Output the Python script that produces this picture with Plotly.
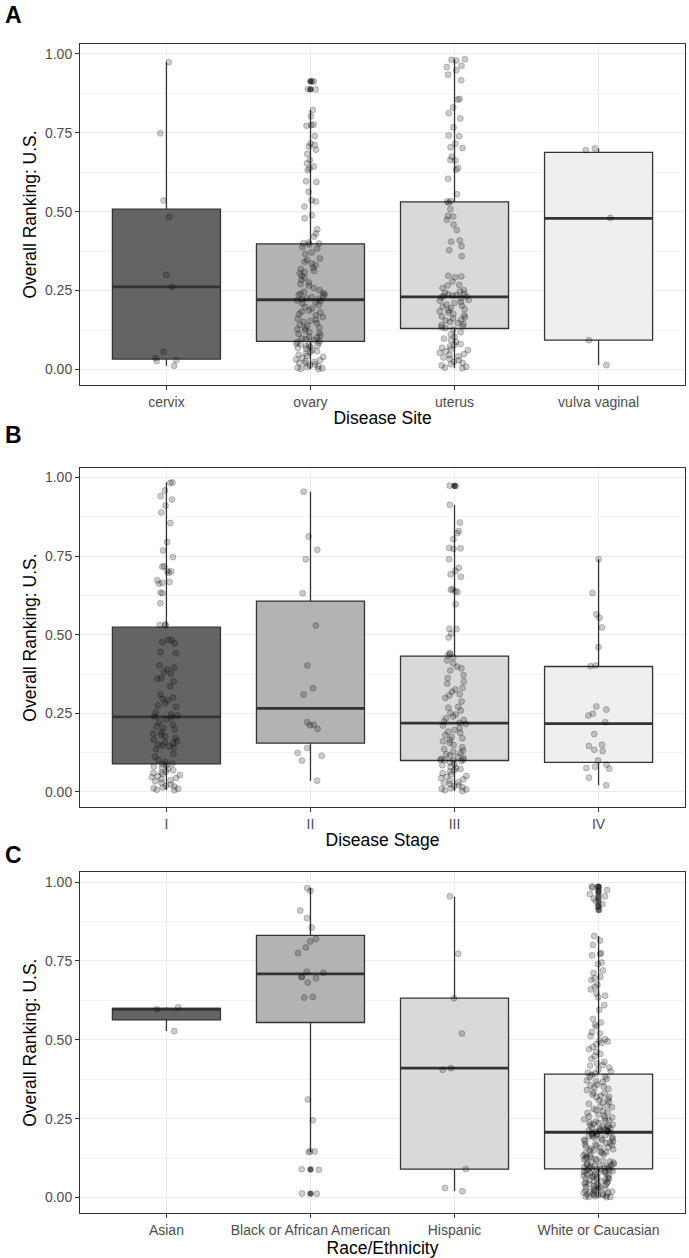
import plotly.graph_objects as go

# ---------------- data ----------------
site_cats = ["cervix", "ovary", "uterus", "vulva vaginal"]
stage_cats = ["I", "II", "III", "IV"]
race_cats = ["Asian", "Black or African American", "Hispanic", "White or Caucasian"]

# panel A points
site_cervix = [0.973, 0.748, 0.535, 0.483, 0.300, 0.262, 0.056, 0.036, 0.030, 0.027, 0.012]
site_ovary = [0.913, 0.912, 0.888, 0.887, 0.822, 0.802, 0.776, 0.774, 0.772, 0.740, 0.716, 0.711,
              0.706, 0.696, 0.683, 0.664, 0.653, 0.643, 0.637, 0.632, 0.596, 0.594, 0.563, 0.536,
              0.532, 0.516, 0.489, 0.479, 0.444, 0.431, 0.421, 0.402, 0.400, 0.399,
              0.396, 0.388, 0.383, 0.371, 0.366, 0.352, 0.347, 0.341, 0.336, 0.331, 0.322, 0.318,
              0.312, 0.309, 0.305, 0.297, 0.291, 0.284, 0.276, 0.271, 0.266, 0.258, 0.252, 0.246,
              0.242, 0.240, 0.238, 0.236, 0.233, 0.229, 0.226, 0.224, 0.222,
              0.219, 0.217, 0.212, 0.209, 0.204, 0.198, 0.193, 0.187, 0.183, 0.181, 0.176, 0.172,
              0.166, 0.161, 0.158, 0.154, 0.151, 0.147, 0.142, 0.138, 0.133, 0.131, 0.127, 0.124,
              0.119, 0.116, 0.113, 0.108, 0.104, 0.101, 0.098, 0.096, 0.093, 0.091,
              0.087, 0.084, 0.082, 0.080, 0.077, 0.076, 0.074, 0.071, 0.068, 0.066, 0.062, 0.058,
              0.055, 0.051, 0.047, 0.043, 0.040, 0.036, 0.032, 0.029, 0.027, 0.024, 0.021, 0.019,
              0.016, 0.013, 0.010, 0.008, 0.006, 0.004, 0.002, 0.001]
site_uterus = [0.983, 0.981, 0.979, 0.962, 0.958, 0.948, 0.934, 0.916, 0.857, 0.855, 0.830, 0.812,
               0.795, 0.767, 0.741, 0.739, 0.715, 0.704, 0.702, 0.674, 0.664, 0.662, 0.638, 0.633,
               0.604, 0.555, 0.534, 0.532,
               0.528, 0.508, 0.487, 0.485, 0.474, 0.459, 0.442, 0.409, 0.405, 0.391, 0.378, 0.359,
               0.297, 0.295, 0.292, 0.279, 0.268, 0.266, 0.258, 0.251, 0.247, 0.243, 0.240, 0.238,
               0.236, 0.234, 0.232, 0.231,
               0.228, 0.225, 0.221, 0.218, 0.214, 0.211, 0.206, 0.202, 0.199, 0.195, 0.191, 0.188,
               0.184, 0.181, 0.176, 0.172, 0.168, 0.165, 0.162, 0.158, 0.155, 0.151, 0.147, 0.144,
               0.141, 0.137, 0.134, 0.131,
               0.127, 0.118, 0.111, 0.104, 0.098, 0.093, 0.087, 0.081, 0.078, 0.073, 0.069, 0.064,
               0.061, 0.057, 0.053, 0.049, 0.046, 0.042, 0.038, 0.034, 0.029, 0.025, 0.021, 0.017,
               0.013, 0.009, 0.006, 0.004]
site_vulva = [0.700, 0.695, 0.480, 0.093, 0.014]

site_q1 = [0.033, 0.089, 0.130, 0.093]
site_median = [0.262, 0.221, 0.230, 0.479]
site_q3 = [0.508, 0.398, 0.531, 0.688]
site_lower = [0.012, 0.001, 0.004, 0.014]
site_upper = [0.973, 0.822, 0.981, 0.700]
site_outliers = [[], [0.913, 0.912, 0.888, 0.887], [], []]

# panel B points
stage_I = [0.984, 0.983, 0.959, 0.941, 0.930, 0.911, 0.889, 0.855, 0.795, 0.768, 0.747, 0.718,
           0.716, 0.703, 0.701, 0.697, 0.673, 0.668, 0.665, 0.662, 0.634, 0.632, 0.600, 0.533,
           0.531, 0.529,
           0.484, 0.483, 0.476, 0.473, 0.445, 0.441, 0.402, 0.396, 0.390, 0.381, 0.377, 0.362,
           0.360, 0.351, 0.336, 0.310, 0.300, 0.296, 0.292, 0.282, 0.275, 0.271, 0.252, 0.246,
           0.243, 0.240,
           0.237, 0.231, 0.222, 0.214, 0.209, 0.203, 0.198, 0.191, 0.185, 0.181, 0.176, 0.171,
           0.166, 0.161, 0.158, 0.155, 0.151, 0.148, 0.145, 0.141, 0.136, 0.121, 0.112, 0.101,
           0.095, 0.090,
           0.088, 0.085, 0.081, 0.078, 0.074, 0.069, 0.065, 0.062, 0.060, 0.057, 0.054, 0.050,
           0.047, 0.044, 0.040, 0.037, 0.034, 0.029, 0.024, 0.020, 0.017, 0.014, 0.012, 0.010,
           0.007, 0.005]
stage_II = [0.955, 0.812, 0.770, 0.740, 0.632, 0.529, 0.402, 0.330, 0.310, 0.222, 0.214, 0.212,
            0.200, 0.140, 0.124, 0.115, 0.100, 0.036]
stage_III = [0.974, 0.973, 0.913, 0.857, 0.830, 0.823, 0.804, 0.776, 0.775, 0.773, 0.740, 0.713,
             0.703, 0.692, 0.684, 0.645, 0.643, 0.638, 0.636, 0.597, 0.519, 0.518, 0.504, 0.491,
             0.441, 0.439, 0.434,
             0.428, 0.418, 0.409, 0.398, 0.393, 0.386, 0.372, 0.362, 0.351, 0.344, 0.331, 0.326,
             0.319, 0.311, 0.307, 0.299, 0.288, 0.271, 0.268, 0.259, 0.251, 0.246, 0.240, 0.234,
             0.229, 0.224, 0.220,
             0.216, 0.211, 0.203, 0.197, 0.192, 0.188, 0.181, 0.175, 0.171, 0.166, 0.161, 0.156,
             0.149, 0.142, 0.136, 0.131, 0.128, 0.124, 0.120, 0.116, 0.112, 0.108, 0.105, 0.103,
             0.102, 0.101, 0.100,
             0.098, 0.094, 0.089, 0.085, 0.080, 0.076, 0.073, 0.069, 0.065, 0.060, 0.056, 0.051,
             0.048, 0.044, 0.040, 0.036, 0.031, 0.028, 0.025, 0.021, 0.018, 0.015, 0.012, 0.010,
             0.008, 0.005, 0.003]
stage_IV = [0.740, 0.633, 0.565, 0.554, 0.523, 0.461, 0.402, 0.400, 0.272, 0.262, 0.249, 0.243,
            0.222, 0.184, 0.150, 0.146, 0.134, 0.130, 0.100, 0.087, 0.080, 0.076, 0.074, 0.045,
            0.021]

stage_q1 = [0.089, 0.155, 0.100, 0.094]
stage_median = [0.239, 0.266, 0.219, 0.217]
stage_q3 = [0.524, 0.607, 0.432, 0.399]
stage_lower = [0.005, 0.036, 0.003, 0.021]
stage_upper = [0.984, 0.955, 0.913, 0.740]
stage_outliers = [[], [], [0.974, 0.973], []]

# panel C points
race_asian = [0.603, 0.597, 0.528]
race_black = [0.981, 0.973, 0.910, 0.886, 0.856, 0.820, 0.812, 0.793, 0.775, 0.716, 0.713, 0.700,
              0.699, 0.695, 0.682, 0.636, 0.634, 0.311, 0.245, 0.147, 0.146, 0.144, 0.090, 0.088,
              0.013, 0.012]
race_hispanic = [0.955, 0.773, 0.632, 0.520, 0.410, 0.405, 0.090, 0.030, 0.020]
race_white = [0.986, 0.985, 0.983, 0.975, 0.970, 0.962, 0.955, 0.948, 0.940, 0.930, 0.922, 0.912,
              0.829, 0.815, 0.801, 0.775, 0.772, 0.768, 0.745, 0.740, 0.720, 0.712, 0.700, 0.695,
              0.690, 0.675, 0.668, 0.660, 0.648, 0.640, 0.635, 0.610, 0.595, 0.566, 0.555, 0.548,
              0.542, 0.525, 0.520, 0.512, 0.502, 0.498, 0.495, 0.490, 0.486, 0.478, 0.470, 0.462,
              0.455, 0.448, 0.440, 0.430, 0.425, 0.420, 0.418, 0.412, 0.405, 0.400, 0.396, 0.393,
              0.389, 0.384, 0.382, 0.377, 0.371, 0.369, 0.366, 0.358, 0.355, 0.352, 0.349, 0.344,
              0.341, 0.333, 0.331, 0.327, 0.322, 0.319, 0.318, 0.312, 0.308, 0.303, 0.301, 0.297,
              0.292, 0.288, 0.286, 0.281, 0.277, 0.274, 0.270, 0.268, 0.263, 0.259, 0.257, 0.254,
              0.251, 0.248, 0.246, 0.243, 0.241, 0.238, 0.236, 0.233, 0.231, 0.229, 0.227, 0.225,
              0.223, 0.222, 0.220, 0.218, 0.217, 0.215, 0.213, 0.212, 0.211, 0.210, 0.209, 0.208,
              0.206, 0.205, 0.202, 0.201, 0.198, 0.197, 0.195, 0.194, 0.191, 0.190, 0.187, 0.186,
              0.183, 0.182, 0.179, 0.178, 0.174, 0.173, 0.170, 0.169, 0.166, 0.164, 0.161, 0.159,
              0.158, 0.155, 0.153, 0.150, 0.149, 0.146, 0.144, 0.141, 0.140, 0.137, 0.134, 0.133,
              0.129, 0.128, 0.125, 0.122, 0.121, 0.118, 0.117, 0.114, 0.112, 0.111, 0.108, 0.106,
              0.104, 0.103, 0.101, 0.100, 0.099, 0.097, 0.096, 0.095, 0.094, 0.093, 0.092, 0.091,
              0.090, 0.089, 0.088, 0.087, 0.085, 0.084, 0.083, 0.081, 0.080, 0.079, 0.077, 0.075,
              0.074, 0.072, 0.071, 0.070, 0.068, 0.066, 0.064, 0.063, 0.061, 0.059, 0.058, 0.056,
              0.055, 0.052, 0.051, 0.050, 0.047, 0.046, 0.044, 0.042, 0.041, 0.039, 0.037, 0.035,
              0.034, 0.031, 0.030, 0.028, 0.026, 0.025, 0.023, 0.021, 0.019, 0.018, 0.016, 0.015,
              0.013, 0.011, 0.010, 0.009, 0.008, 0.007, 0.006, 0.004, 0.003, 0.002, 0.002, 0.001]

race_q1 = [0.563, 0.555, 0.090, 0.091]
race_median = [0.597, 0.709, 0.410, 0.207]
race_q3 = [0.600, 0.831, 0.632, 0.391]
race_lower = [0.528, 0.144, 0.020, 0.001]
race_upper = [0.603, 0.981, 0.954, 0.829]
race_outliers = [[], [0.090, 0.088, 0.013, 0.012], [],
                 [0.986, 0.985, 0.983, 0.975, 0.970, 0.962, 0.955, 0.948, 0.940, 0.930, 0.922, 0.912]]

box_fills = ["#646464", "#b3b3b3", "#d9d9d9", "#efefef"]

panels = [
    dict(cats=site_cats, pts=[site_cervix, site_ovary, site_uterus, site_vulva],
         q1=site_q1, med=site_median, q3=site_q3, lo=site_lower, hi=site_upper,
         outs=site_outliers, xtitle="Disease Site", domain=[0.7083, 1.0], letter="A", ly=1.0248),
    dict(cats=stage_cats, pts=[stage_I, stage_II, stage_III, stage_IV],
         q1=stage_q1, med=stage_median, q3=stage_q3, lo=stage_lower, hi=stage_upper,
         outs=stage_outliers, xtitle="Disease Stage", domain=[0.347, 0.6375], letter="B", ly=0.6655),
    dict(cats=race_cats, pts=[race_asian, race_black, race_hispanic, race_white],
         q1=race_q1, med=race_median, q3=race_q3, lo=race_lower, hi=race_upper,
         outs=race_outliers, xtitle="Race/Ethnicity", domain=[0.0, 0.2914], letter="C", ly=0.3062),
]

FONT = "Liberation Sans, Arial, sans-serif"
TICK_SIZE = 14
TITLE_SIZE = 17.5
BOXW = 0.75
fig = go.Figure()
layout_axes = {}
annotations = []

for p_i, p in enumerate(panels):
    sfx = "" if p_i == 0 else str(p_i + 1)
    xa, ya = "x" + sfx, "y" + sfx
    common = dict(xaxis=xa, yaxis=ya, showlegend=False, hoverinfo="skip", width=BOXW)
    # boxes
    for c_i, cat in enumerate(p["cats"]):
        fig.add_trace(go.Box(x=[cat], q1=[p["q1"][c_i]], median=[p["med"][c_i]], q3=[p["q3"][c_i]],
                             lowerfence=[p["lo"][c_i]], upperfence=[p["hi"][c_i]],
                             fillcolor=box_fills[c_i], line=dict(color="#333333", width=1.3),
                             whiskerwidth=0, boxpoints=False, **common))
    # thick median lines
    for c_i, cat in enumerate(p["cats"]):
        m = p["med"][c_i]
        fig.add_trace(go.Box(x=[cat], q1=[m], median=[m], q3=[m], lowerfence=[m], upperfence=[m],
                             fillcolor="rgba(0,0,0,0)", line=dict(color="#333333", width=2.8),
                             whiskerwidth=0, boxpoints=False, **common))
    # outliers (at category centre)
    for c_i, cat in enumerate(p["cats"]):
        o = p["outs"][c_i]
        if o:
            fig.add_trace(go.Box(x=[cat] * len(o), y=o, boxpoints="all", jitter=0, pointpos=0,
                                 fillcolor="rgba(0,0,0,0)", line=dict(width=0, color="rgba(0,0,0,0)"),
                                 marker=dict(color="rgba(60,60,60,0.6)", size=6), **common))
    # jittered points
    for c_i, cat in enumerate(p["cats"]):
        v = p["pts"][c_i]
        fig.add_trace(go.Box(x=[cat] * len(v), y=v, boxpoints="all", jitter=0.28, pointpos=0,
                             fillcolor="rgba(0,0,0,0)", line=dict(width=0, color="rgba(0,0,0,0)"),
                             marker=dict(color="rgba(0,0,0,0.2)", size=6,
                                         line=dict(color="rgba(0,0,0,0.3)", width=0.7)),
                             **common))

    layout_axes["xaxis" + sfx] = dict(
        domain=[0, 1], anchor=ya, type="category", categoryorder="array", categoryarray=p["cats"],
        range=[-0.6, 3.6], showgrid=True, gridcolor="#ebebeb", gridwidth=1, zeroline=False,
        showline=True, mirror=True, linecolor="#333333", linewidth=1,
        ticks="outside", ticklen=4, tickcolor="#333333", tickwidth=1,
        tickfont=dict(size=TICK_SIZE, color="#4d4d4d", family=FONT),
        title=dict(text=p["xtitle"], font=dict(size=TITLE_SIZE, color="black", family=FONT),
                   standoff=2),
        automargin=False)
    layout_axes["yaxis" + sfx] = dict(
        domain=p["domain"], anchor=xa, range=[-0.049, 1.031],
        tickvals=[0, 0.25, 0.5, 0.75, 1.0], tickformat=".2f",
        showgrid=True, gridcolor="#ebebeb", gridwidth=1, zeroline=False,
        minor=dict(tick0=0, dtick=0.125, showgrid=True, gridcolor="#f3f3f3", gridwidth=0.6, ticks=""),
        showline=True, mirror=True, linecolor="#333333", linewidth=1,
        ticks="outside", ticklen=4, tickcolor="#333333", tickwidth=1,
        tickfont=dict(size=TICK_SIZE, color="#4d4d4d", family=FONT),
        title=dict(text="Overall Ranking: U.S.", font=dict(size=TITLE_SIZE, color="black", family=FONT),
                   standoff=3),
        automargin=False)
    annotations.append(dict(text="<b>" + p["letter"] + "</b>", xref="paper", yref="paper",
                            x=-0.128, y=p["ly"], xanchor="left", yanchor="middle", showarrow=False,
                            font=dict(size=23, color="black", family=FONT)))

fig.update_layout(
    width=689, height=1258,
    margin=dict(l=80, r=4, t=44, b=45),
    paper_bgcolor="white", plot_bgcolor="white",
    boxmode="overlay", boxgap=0.25, boxgroupgap=0,
    font=dict(family=FONT),
    annotations=annotations,
    **layout_axes,
)

fig.write_html("out.html", config={"displayModeBar": False},
               post_script="document.body.style.margin='0px';document.body.style.overflow='hidden';")
